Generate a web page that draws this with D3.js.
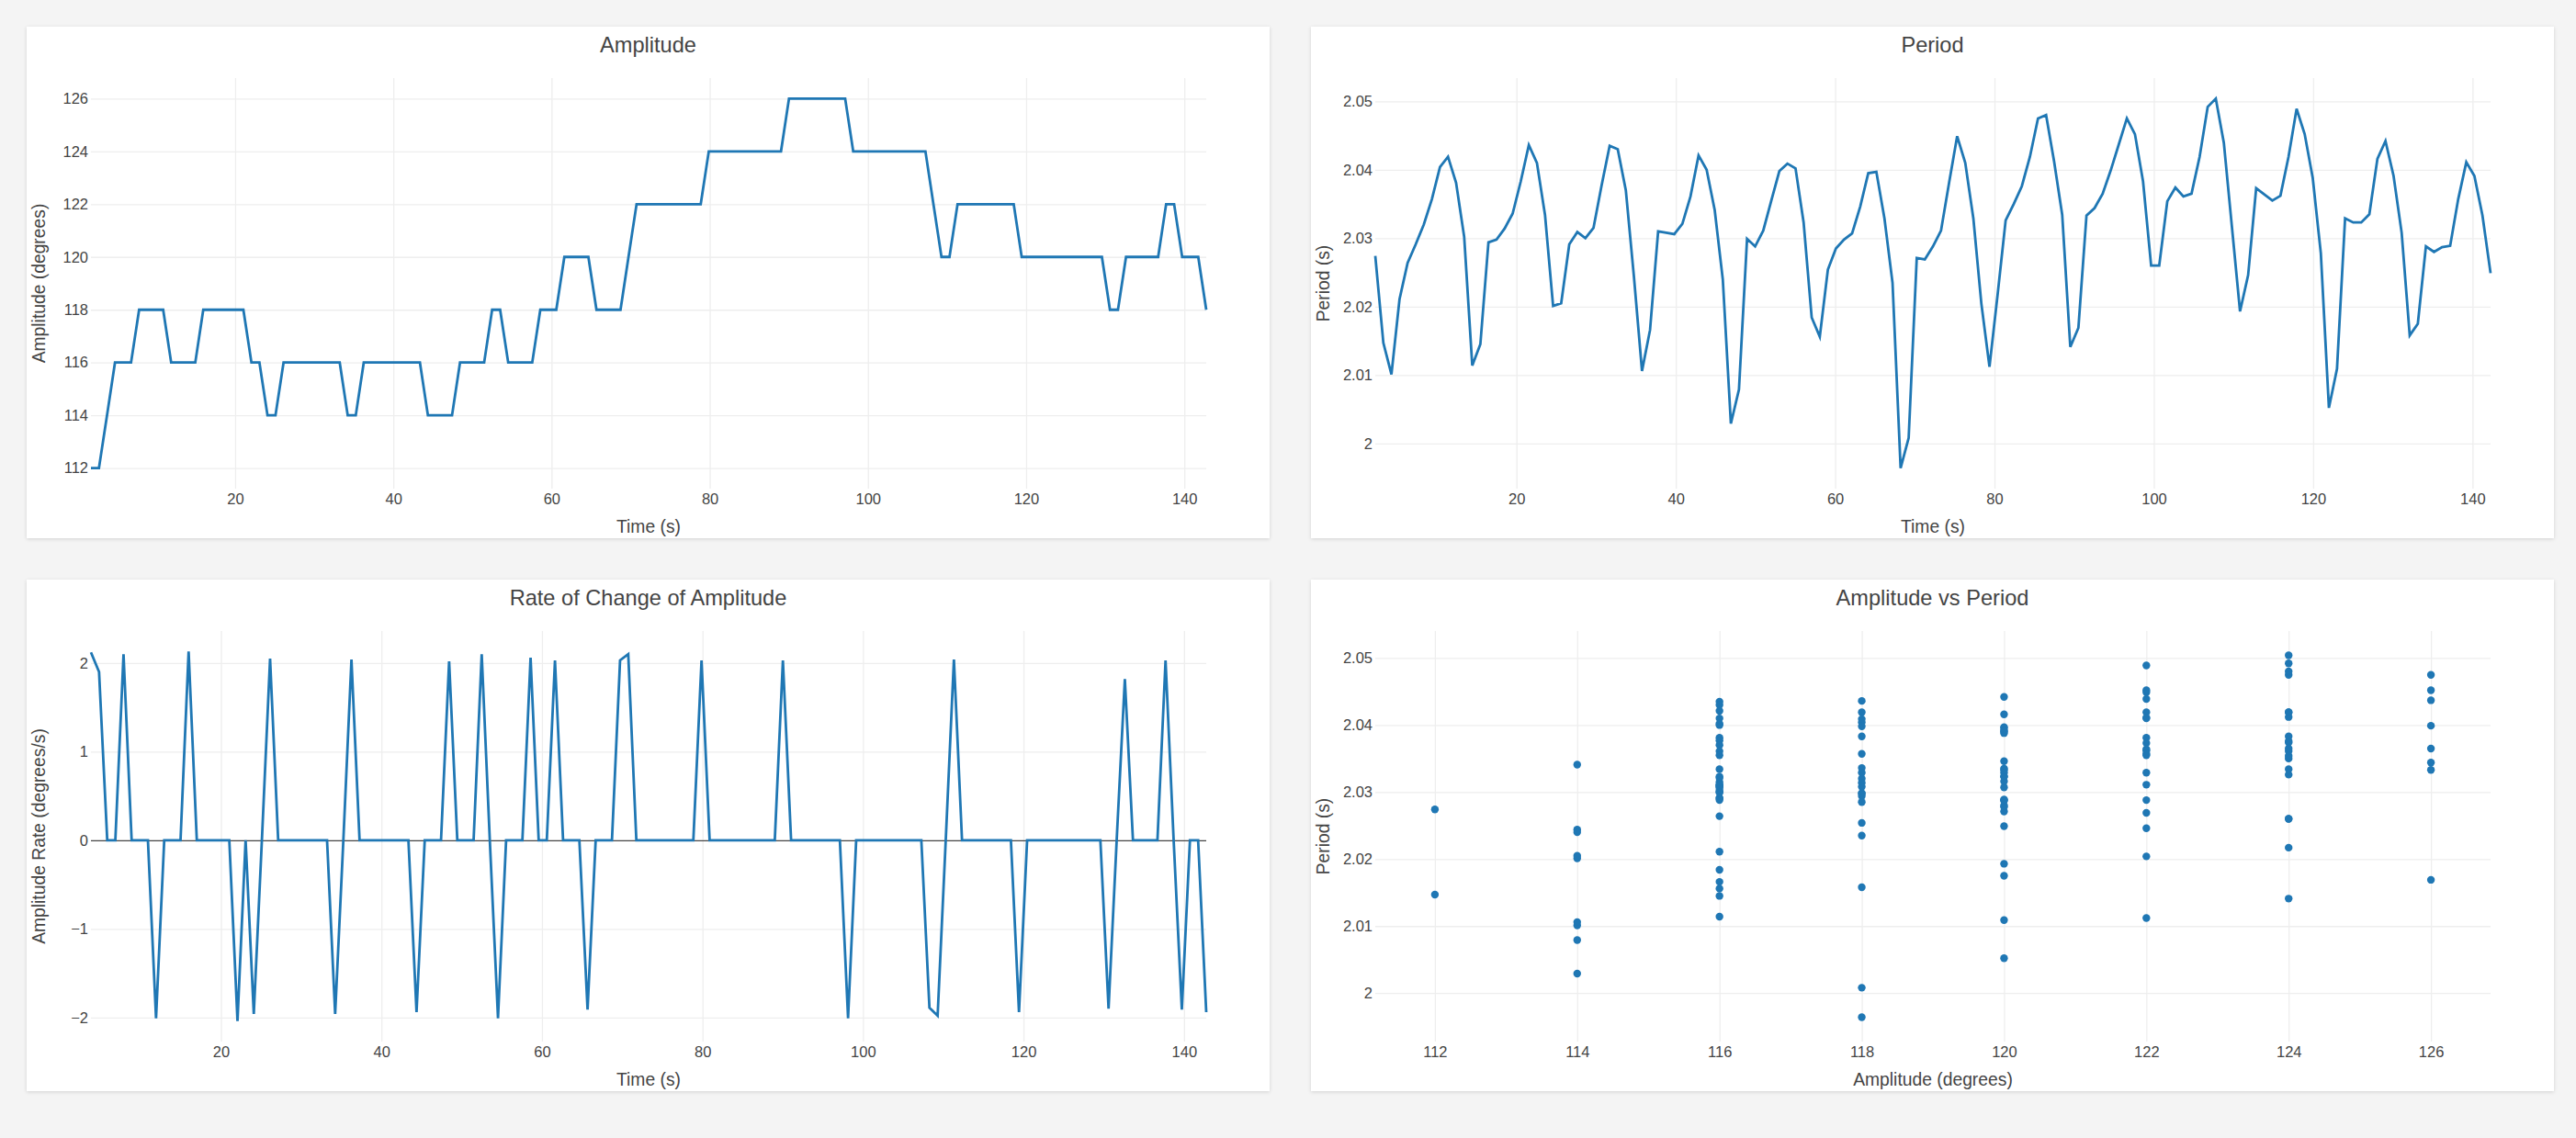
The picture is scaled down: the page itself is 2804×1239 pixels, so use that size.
<!DOCTYPE html>
<html><head><meta charset="utf-8">
<script src="https://cdn.jsdelivr.net/npm/d3@7"></script>
<style>
html,body{margin:0;padding:0;background:#f4f4f4;}
body{width:2804px;height:1239px;position:relative;overflow:hidden;font-family:"Liberation Sans",Arial,Helvetica,sans-serif;}
.card{position:absolute;width:1353px;height:557px;background:#fff;box-shadow:0 1px 4px rgba(0,0,0,0.14);}
.card svg{display:block;}
</style></head><body>
<script>
// ---------------- data ----------------
const time = [1.77,2.78,3.80,4.81,5.83,6.84,7.86,8.87,9.89,10.90,
11.91,12.93,13.94,14.96,15.97,16.99,18.00,19.01,20.03,21.04,
22.06,23.07,24.09,25.10,26.12,27.13,28.14,29.16,30.17,31.19,
32.20,33.22,34.23,35.25,36.26,37.27,38.29,39.30,40.32,41.33,
42.35,43.36,44.37,45.39,46.40,47.42,48.43,49.45,50.46,51.48,
52.49,53.50,54.52,55.53,56.55,57.56,58.58,59.59,60.60,61.62,
62.63,63.65,64.66,65.68,66.69,67.71,68.72,69.73,70.75,71.76,
72.78,73.79,74.81,75.82,76.84,77.85,78.86,79.88,80.89,81.91,
82.92,83.94,84.95,85.97,86.98,87.99,89.01,90.02,91.04,92.05,
93.07,94.08,95.09,96.11,97.12,98.14,99.15,100.17,101.18,102.20,
103.21,104.22,105.24,106.25,107.27,108.28,109.30,110.31,111.33,112.34,
113.35,114.37,115.38,116.40,117.41,118.43,119.44,120.45,121.47,122.48,
123.50,124.51,125.53,126.54,127.56,128.57,129.58,130.60,131.61,132.63,
133.64,134.66,135.67,136.69,137.70,138.71,139.73,140.74,141.76,142.77];

const amplitude = [112,112,114,116,116,116,118,118,118,118,
116,116,116,116,118,118,118,118,118,118,
116,116,114,114,116,116,116,116,116,116,
116,116,114,114,116,116,116,116,116,116,
116,116,114,114,114,114,116,116,116,116,
118,118,116,116,116,116,118,118,118,120,
120,120,120,118,118,118,118,120,122,122,
122,122,122,122,122,122,122,124,124,124,
124,124,124,124,124,124,124,126,126,126,
126,126,126,126,126,124,124,124,124,124,
124,124,124,124,124,122,120,120,122,122,
122,122,122,122,122,122,120,120,120,120,
120,120,120,120,120,120,120,118,118,120,
120,120,120,120,122,122,120,120,120,118];

// one value per consecutive pair of amplitude samples
const period = [2.0274,2.0147,2.0101,2.0211,2.0264,2.0291,2.0320,2.0357,2.0404,2.0419,
2.0381,2.0302,2.0114,2.0145,2.0294,2.0298,2.0314,2.0336,2.0383,2.0436,
2.0410,2.0334,2.0201,2.0205,2.0291,2.0309,2.0300,2.0315,2.0377,2.0435,
2.0430,2.0370,2.0244,2.0106,2.0166,2.0310,2.0308,2.0306,2.0321,2.0361,
2.0421,2.0400,2.0341,2.0240,2.0029,2.0079,2.0299,2.0288,2.0311,2.0355,
2.0398,2.0409,2.0402,2.0323,2.0184,2.0156,2.0254,2.0285,2.0298,2.0307,
2.0346,2.0395,2.0397,2.0329,2.0235,1.9964,2.0008,2.0271,2.0269,2.0288,
2.0311,2.0381,2.0449,2.0410,2.0329,2.0204,2.0112,2.0217,2.0326,2.0350,
2.0376,2.0419,2.0475,2.0480,2.0412,2.0334,2.0141,2.0169,2.0333,2.0344,
2.0365,2.0399,2.0437,2.0475,2.0452,2.0383,2.0260,2.0260,2.0354,2.0374,
2.0361,2.0365,2.0419,2.0492,2.0504,2.0439,2.0316,2.0193,2.0246,2.0373,
2.0364,2.0355,2.0362,2.0419,2.0489,2.0452,2.0388,2.0278,2.0052,2.0109,
2.0329,2.0323,2.0323,2.0335,2.0416,2.0442,2.0391,2.0308,2.0158,2.0175,
2.0288,2.0280,2.0287,2.0289,2.0357,2.0411,2.0391,2.0333,2.0249];

// rate of change, from the third amplitude sample onwards
const rate = [2.12,1.90,0,0,2.10,0,0,0,-2.01,0,
0,0,2.13,0,0,0,0,0,-2.04,0,
-1.96,0,2.05,0,0,0,0,0,0,0,
-1.96,0,2.04,0,0,0,0,0,0,0,
-1.94,0,0,0,2.02,0,0,0,2.10,0,
-2.01,0,0,0,2.06,0,0,2.03,0,0,
0,-1.91,0,0,0,2.03,2.10,0,0,0,
0,0,0,0,0,2.03,0,0,0,0,
0,0,0,0,0,2.03,0,0,0,0,
0,0,0,-2.01,0,0,0,0,0,0,
0,0,0,-1.89,-1.98,0,2.04,0,0,0,
0,0,0,0,-1.94,0,0,0,0,0,
0,0,0,0,0,-1.90,0,1.82,0,0,
0,0,2.03,0,-1.91,0,0,-1.94];

const timeTicks = [20,40,60,80,100,120,140];
const amplitudeTicks = [112,114,116,118,120,122,124,126];
const periodTicks = [2,2.01,2.02,2.03,2.04,2.05];
const rateTicks = [-2,-1,0,1,2];

const titles = ["Amplitude","Period","Rate of Change of Amplitude","Amplitude vs Period"];

// ---------------- layout ----------------
const W = 1353, H = 557;
const M = {left:70, right:69, top:56, bottom:54};
const PW = W - M.left - M.right, PH = H - M.top - M.bottom;
const COLOR = "#1f77b4", TEXT = "#444";
const TICK_FS = 16.5, AXT_FS = 19.3, TITLE_FS = 23.6;
const MR = 4.2;

// plotly-like autorange: pad in pixels on both sides
function padDomain(lo, hi, len, padPx){
  const span = (hi - lo) * len / (len - 2*padPx);
  const lower = lo - padPx * span / len;
  return [lower, lower + span];
}

function panel(pos, title, xTitle, yTitle){
  const div = d3.select("body").append("div").attr("class","card")
    .style("left", pos[0]+"px").style("top", pos[1]+"px");
  const svg = div.append("svg").attr("width",W).attr("height",H);
  svg.append("text").attr("x", W/2).attr("y", 28).attr("text-anchor","middle")
    .attr("font-size",TITLE_FS).attr("fill",TEXT).text(title);
  svg.append("text").attr("x", M.left + PW/2).attr("y", 551).attr("text-anchor","middle")
    .attr("font-size",AXT_FS).attr("fill",TEXT).text(xTitle);
  svg.append("text").attr("transform",`translate(19.5,${M.top+PH/2}) rotate(-90)`)
    .attr("text-anchor","middle").attr("font-size",AXT_FS).attr("fill",TEXT).text(yTitle);
  return svg;
}

function axes(svg, x, y, xt, yt, yfmt, zero){
  const gx = svg.append("g").attr("transform",`translate(0,${M.top+PH})`)
    .call(d3.axisBottom(x).tickValues(xt).tickSize(-PH).tickPadding(5.7).tickFormat(d3.format("d")));
  const gy = svg.append("g").attr("transform",`translate(${M.left},0)`)
    .call(d3.axisLeft(y).tickValues(yt).tickSize(-PW).tickPadding(3).tickFormat(yfmt));
  [gx,gy].forEach(g=>{
    g.select(".domain").remove();
    g.selectAll(".tick line").attr("stroke","#eeeeee").attr("stroke-width",1.3);
    g.selectAll(".tick text").attr("fill",TEXT).attr("font-size",TICK_FS)
      .attr("font-family",'"Liberation Sans",Arial,sans-serif');
  });
  if (zero){
    gy.selectAll(".tick").filter(d=>d===0).select("line").attr("stroke","#444").attr("stroke-width",1.3);
  }
}

function lineChart(pos, title, xs, ys, yTicks, yTitle, yfmt, zero){
  const svg = panel(pos, title, "Time (s)", yTitle);
  const x = d3.scaleLinear().domain(d3.extent(xs)).range([M.left, M.left+PW]);
  const y = d3.scaleLinear().domain(padDomain(d3.min(ys), d3.max(ys), PH, 0.05*PH)).range([M.top+PH, M.top]);
  axes(svg, x, y, timeTicks, yTicks, yfmt, zero);
  const pts = xs.map((t,i)=>[t, ys[i]]);
  svg.append("path").datum(pts)
    .attr("d", d3.line().x(d=>x(d[0])).y(d=>y(d[1])))
    .attr("fill","none").attr("stroke",COLOR).attr("stroke-width",2.8);
}

const fmtPlain = v => String(+v.toFixed(2));

// Amplitude
lineChart([29,29], titles[0], time, amplitude, amplitudeTicks, "Amplitude (degrees)", d3.format("d"), false);

// Period (placed between consecutive samples)
const periodTime = period.map((p,i)=> (time[i] + time[i+1]) / 2);
lineChart([1427,29], titles[1], periodTime, period, periodTicks, "Period (s)", fmtPlain, false);

// Rate of change
const rateTime = time.slice(2);
lineChart([29,631], titles[2], rateTime, rate, rateTicks, "Amplitude Rate (degrees/s)", d3.format("d"), true);

// Amplitude vs Period scatter
(function(){
  const svg = panel([1427,631], titles[3], "Amplitude (degrees)", "Period (s)");
  const pairs = period.map((p,i)=>[amplitude[i], p]);
  const ax = pairs.map(d=>d[0]), py = pairs.map(d=>d[1]);
  const x = d3.scaleLinear().domain(padDomain(d3.min(ax), d3.max(ax), PW, 0.05*PW + MR)).range([M.left, M.left+PW]);
  const y = d3.scaleLinear().domain(padDomain(d3.min(py), d3.max(py), PH, 0.05*PH + MR)).range([M.top+PH, M.top]);
  axes(svg, x, y, amplitudeTicks, periodTicks, fmtPlain, false);
  svg.append("g").selectAll("circle").data(pairs).join("circle")
    .attr("cx", d=>x(d[0])).attr("cy", d=>y(d[1])).attr("r", MR).attr("fill", COLOR);
})();
</script>
</body></html>
